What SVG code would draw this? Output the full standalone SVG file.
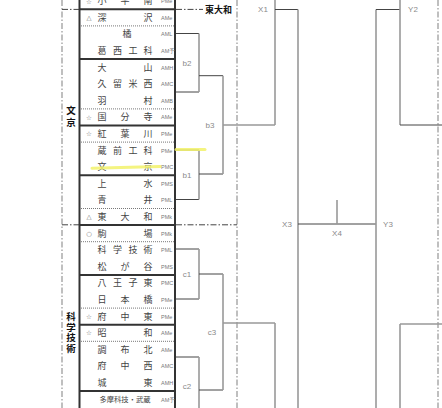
<svg xmlns="http://www.w3.org/2000/svg" width="442" height="408" viewBox="0 0 442 408">
<style>
.nm{font-family:"Noto Sans CJK JP","Noto Sans",sans-serif;font-size:9px;fill:#444;text-anchor:middle}
.mk{font-family:"DejaVu Sans",sans-serif;font-size:6.5px;fill:#777;text-anchor:middle}
.cd{font-family:"Liberation Sans",sans-serif;font-size:5.5px;fill:#777}
.lb{font-family:"Liberation Sans",sans-serif;font-size:8px;fill:#8a8a8a;text-anchor:middle;dominant-baseline:central}
.grp{font-family:"Noto Sans CJK JP",sans-serif;font-size:9.5px;font-weight:bold;fill:#111;text-anchor:middle}
.dd{stroke:#aaa;stroke-width:1.5;stroke-dasharray:6 2 1.5 2;fill:none}
.ddh{stroke:#444;stroke-width:1;stroke-dasharray:6 2 1.5 2;fill:none}
.thk{stroke:#333;stroke-width:2;fill:none}
.dot{stroke:#555;stroke-width:0.8;stroke-dasharray:1 1;fill:none}
.br{stroke:#999;stroke-width:1.6;fill:none}
.bd{stroke:#444;stroke-width:1;fill:none}
.hl{stroke:#f2f26a;stroke-width:3;fill:none;stroke-linecap:round;opacity:0.85}
</style>
<defs><clipPath id="box"><rect x="79" y="0" width="96" height="408"/></clipPath></defs>
<rect width="442" height="408" fill="#fff"/>
<g id="guides">
<line class="dd" x1="62" y1="0" x2="62" y2="408"/>
<line class="dd" x1="237" y1="0" x2="237" y2="408"/>
<line class="dd" x1="438" y1="0" x2="438" y2="408"/>
<line class="ddh" x1="62" y1="9.4" x2="79" y2="9.4"/>
<line class="ddh" x1="176" y1="9.4" x2="203" y2="9.4"/>
<line class="ddh" x1="62" y1="224.8" x2="79" y2="224.8"/>
<line class="ddh" x1="176" y1="224.8" x2="237" y2="224.8"/>
<text x="218.5" y="13" style="font-family:'Noto Sans CJK JP',sans-serif;font-size:9px;font-weight:bold;fill:#111;text-anchor:middle">東大和</text>
</g>
<g id="group-labels">
<text class="grp" x="71 71" y="114 126">文京</text>
<text class="grp" x="71 71 71 71" y="320 330.5 341 351.5">科学技術</text>
</g>
<g id="team-table">
<line class="dot" x1="79" y1="25.9" x2="175" y2="25.9"/>
<line class="dot" x1="79" y1="108.9" x2="175" y2="108.9"/>
<line class="dot" x1="79" y1="142.1" x2="175" y2="142.1"/>
<line class="dot" x1="79" y1="208.5" x2="175" y2="208.5"/>
<line class="dot" x1="79" y1="241.7" x2="175" y2="241.7"/>
<line class="dot" x1="79" y1="308.1" x2="175" y2="308.1"/>
<line class="dot" x1="79" y1="341.3" x2="175" y2="341.3"/>
<line class="thk" x1="79" y1="9.3" x2="175" y2="9.3"/>
<line class="thk" x1="79" y1="59.1" x2="175" y2="59.1"/>
<line class="thk" x1="79" y1="125.5" x2="175" y2="125.5"/>
<line class="thk" x1="79" y1="175.3" x2="175" y2="175.3"/>
<line class="thk" x1="79" y1="225.1" x2="175" y2="225.1"/>
<line class="thk" x1="79" y1="274.9" x2="175" y2="274.9"/>
<line class="thk" x1="79" y1="324.7" x2="175" y2="324.7"/>
<line class="thk" x1="79" y1="391.1" x2="175" y2="391.1"/>
<line class="thk" x1="79.5" y1="0" x2="79.5" y2="408"/>
<line class="thk" x1="175" y1="0" x2="175" y2="408"/>
</g>
<g id="teams">
<g id="t0"><text class="mk" x="89" y="3.5">☆</text><text class="nm" x="102 125 148" y="4.2">小平南</text><text class="cd" x="161" y="3.2" clip-path="url(#box)">PMe</text></g>
<g id="t1"><text class="mk" x="89" y="20">△</text><text class="nm" x="102 148" y="20.8">深沢</text><text class="cd" x="161" y="19.8" clip-path="url(#box)">AMe</text></g>
<g id="t2"><text class="nm" x="127" y="37.4">橘</text><text class="cd" x="161" y="36.4" clip-path="url(#box)">AML</text></g>
<g id="t3"><text class="nm" x="102 117.5 133 148" y="54">葛西工科</text><text class="cd" x="161" y="53" clip-path="url(#box)">AM予</text></g>
<g id="t4"><text class="nm" x="102 148" y="70.6">大山</text><text class="cd" x="161" y="69.6" clip-path="url(#box)">AMH</text></g>
<g id="t5"><text class="nm" x="102 117.5 133 148" y="87.2">久留米西</text><text class="cd" x="161" y="86.2" clip-path="url(#box)">AMC</text></g>
<g id="t6"><text class="nm" x="102 148" y="103.8">羽村</text><text class="cd" x="161" y="102.8" clip-path="url(#box)">AMB</text></g>
<g id="t7"><text class="mk" x="89" y="119.6">☆</text><text class="nm" x="102 125 148" y="120.4">国分寺</text><text class="cd" x="161" y="119.4" clip-path="url(#box)">AMe</text></g>
<g id="t8"><text class="mk" x="89" y="136.2">☆</text><text class="nm" x="102 125 148" y="137">紅葉川</text><text class="cd" x="161" y="136" clip-path="url(#box)">PMe</text></g>
<g id="t9"><text class="nm" x="102 117.5 133 148" y="153.6">蔵前工科</text><text class="cd" x="161" y="152.6" clip-path="url(#box)">PMe</text></g>
<g id="t10"><text class="nm" x="102 148" y="170.2">文京</text><text class="cd" x="161" y="169.2" clip-path="url(#box)">PMC</text></g>
<g id="t11"><text class="nm" x="102 148" y="186.8">上水</text><text class="cd" x="161" y="185.8" clip-path="url(#box)">PMS</text></g>
<g id="t12"><text class="nm" x="102 148" y="203.4">青井</text><text class="cd" x="161" y="202.4" clip-path="url(#box)">PML</text></g>
<g id="t13"><text class="mk" x="89" y="219.2">△</text><text class="nm" x="102 125 148" y="220">東大和</text><text class="cd" x="161" y="219" clip-path="url(#box)">PMk</text></g>
<g id="t14"><text class="mk" x="89" y="235.8">○</text><text class="nm" x="102 148" y="236.6">駒場</text><text class="cd" x="161" y="235.6" clip-path="url(#box)">PMk</text></g>
<g id="t15"><text class="nm" x="102 117.5 133 148" y="253.2">科学技術</text><text class="cd" x="161" y="252.2" clip-path="url(#box)">PML</text></g>
<g id="t16"><text class="nm" x="102 125 148" y="269.8">松が谷</text><text class="cd" x="161" y="268.8" clip-path="url(#box)">PMS</text></g>
<g id="t17"><text class="nm" x="102 117.5 133 148" y="286.4">八王子東</text><text class="cd" x="161" y="285.4" clip-path="url(#box)">PMC</text></g>
<g id="t18"><text class="nm" x="102 125 148" y="303">日本橋</text><text class="cd" x="161" y="302" clip-path="url(#box)">PMe</text></g>
<g id="t19"><text class="mk" x="89" y="318.8">☆</text><text class="nm" x="102 125 148" y="319.6">府中東</text><text class="cd" x="161" y="318.6" clip-path="url(#box)">PMe</text></g>
<g id="t20"><text class="mk" x="89" y="335.4">☆</text><text class="nm" x="102 148" y="336.2">昭和</text><text class="cd" x="161" y="335.2" clip-path="url(#box)">AMe</text></g>
<g id="t21"><text class="nm" x="102 125 148" y="352.8">調布北</text><text class="cd" x="161" y="351.8" clip-path="url(#box)">AMe</text></g>
<g id="t22"><text class="nm" x="102 125 148" y="369.4">府中西</text><text class="cd" x="161" y="368.4" clip-path="url(#box)">AMC</text></g>
<g id="t23"><text class="nm" x="102 148" y="386">城東</text><text class="cd" x="161" y="385" clip-path="url(#box)">AMH</text></g>
<g id="t24"><text class="nm" x="125" y="402.3" style="font-size:7.3px">多摩科技・武蔵</text><text class="cd" x="161" y="401.6" clip-path="url(#box)">AM予</text></g>
</g>
<g id="connectors">
<path class="bd" d="M176 33.5H199M176 92H199M176 150H199M176 199.5H199M176 249H199M176 299H199M176 357H199"/>
<path class="br" d="M199 33.5V92M199 150V199.5M199 249V299M199 357V408"/>
<path class="bd" d="M199 75.7H223M199 174H223M199 274H223M199 390H223"/>
<path class="br" d="M223 75.7V174M223 274V390"/>
<path class="br" d="M223 125H275M223 323H275"/>
<path class="br" d="M275 0V125M275 323V408"/>
<path class="bd" d="M275 9.5H298"/>
<path class="br" d="M298 9.5V408"/>
<path class="bd" d="M298 224H376"/>
<path class="br" d="M337 200V224"/>
<path class="br" d="M376 9.5V408"/>
<path class="bd" d="M376 9.5H400"/>
<path class="br" d="M400 0V125M400 324V408"/>
<path class="bd" d="M400 125H442"/>
<path class="br" d="M400 324H442"/>
</g>
<g id="match-labels">
<text class="lb" x="187" y="63">b2</text>
<text class="lb" x="210" y="125">b3</text>
<text class="lb" x="187" y="175">b1</text>
<text class="lb" x="187" y="274">c1</text>
<text class="lb" x="212" y="332">c3</text>
<text class="lb" x="187" y="386">c2</text>
<text class="lb" x="263" y="9.5">X1</text>
<text class="lb" x="287" y="224">X3</text>
<text class="lb" x="337" y="233">X4</text>
<text class="lb" x="388" y="224">Y3</text>
<text class="lb" x="413" y="9.5">Y2</text>
</g>
<g id="highlights">
<line class="hl" x1="176" y1="149.5" x2="205" y2="149.5"/>
<line class="hl" x1="92" y1="168.3" x2="160" y2="166.6"/>
</g>
</svg>
